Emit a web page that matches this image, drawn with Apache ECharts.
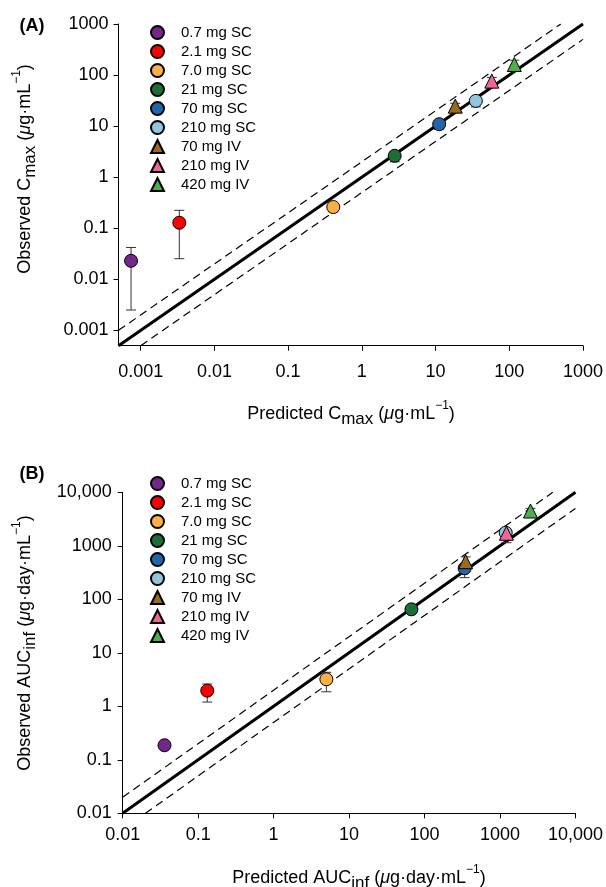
<!DOCTYPE html>
<html><head><meta charset="utf-8">
<script src="https://cdn.jsdelivr.net/npm/echarts@6/dist/echarts.min.js"></script>
<style>html,body{margin:0;padding:0;background:#fff}#c{width:606px;height:887px}</style>
</head><body><div id="c"></div>
<script>
// ---- data ----
const groups = ['0.7 mg SC','2.1 mg SC','7.0 mg SC','21 mg SC','70 mg SC','210 mg SC','70 mg IV','210 mg IV','420 mg IV'];
const groupColors = ['#74268c','#ff0000','#fdae45','#1b6e35','#2166ac','#92c5de','#9c6a1c','#f0649a','#4daf4a'];
const groupSymbols = ['circle','circle','circle','circle','circle','circle','triangle','triangle','triangle'];

// Panel A: Cmax
const predCmax  = [0.00074, 0.00334, 0.41, 2.79, 11.2, 35.2, 18.5, 58, 117];
const obsCmax   = [0.023, 0.128, 0.26, 2.62, 10.9, 31.2, 24.6, 76, 161];
const obsCmaxLo = [0.0025, 0.0253, 0.21, 2.0, 8.6, 23.8, 21, 63, 121];
const obsCmaxHi = [0.042, 0.224, 0.30, 2.9, 12.5, 35, 28, 90, 195];

// Panel B: AUCinf
const predAuc  = [0.0358, 0.132, 5.0, 67, 340, 1190, 350, 1217, 2535];
const obsAuc   = [0.187, 1.96, 3.2, 65, 380, 1760, 505, 1713, 4470];
const obsAucLo = [0.17, 1.2, 1.87, 55, 254, 1500, 420, 1143, 3600];
const obsAucHi = [0.20, 2.61, 4.32, 75, 450, 2100, 620, 2000, 5000];

// reference lines (identity and 2-fold)
const identityA = [[0.0005,0.0005],[1000,1000]];
const upperA    = [[0.0005,0.001],[500,1000]];
const lowerA    = [[0.001,0.0005],[1000,500]];
const identityB = [[0.01,0.01],[10000,10000]];
const upperB    = [[0.01,0.02],[5000,10000]];
const lowerB    = [[0.02,0.01],[10000,5000]];

// axes
const axisMinA = 0.0005, axisMaxA = 1000;
const ticksA = [0.001, 0.01, 0.1, 1, 10, 100, 1000];
const tickLabelsA = ['0.001','0.01','0.1','1','10','100','1000'];
const axisMinB = 0.01, axisMaxB = 10000;
const ticksB = [0.01, 0.1, 1, 10, 100, 1000, 10000];
const tickLabelsB = ['0.01','0.1','1','10','100','1000','10,000'];

// ---- chart ----
const FONT = 'Liberation Sans, Arial, sans-serif';
function fmt(ticks, labels) {
  return function (v) {
    for (let i = 0; i < ticks.length; i++) {
      if (Math.abs(Math.log10(v) - Math.log10(ticks[i])) < 1e-6) return labels[i];
    }
    return '';
  };
}
function logAxis(gi, min, max, ticks, labels, margin) {
  return {
    type: 'log', logBase: 10, gridIndex: gi, min: min, max: max,
    axisLine: { show: true, onZero: false, lineStyle: { color: '#000', width: 1 } },
    axisTick: { show: true, length: 5, inside: false, customValues: ticks, lineStyle: { color: '#000', width: 1 } },
    axisLabel: { show: true, customValues: ticks, formatter: fmt(ticks, labels), color: '#000',
                 fontSize: 18, fontFamily: FONT, margin: margin },
    minorTick: { show: false }, splitLine: { show: false }
  };
}
function refLine(data, xi, solid) {
  return {
    type: 'line', xAxisIndex: xi, yAxisIndex: xi, data: data, symbol: 'none', silent: true, z: 1,
    lineStyle: solid ? { color: '#000', width: 3 } : { color: '#000', width: 1.2, type: [8, 5] }
  };
}
function errSeries(xi, px, lo, hi) {
  const d = px.map((x, i) => [x, lo[i], hi[i]]);
  return {
    type: 'custom', xAxisIndex: xi, yAxisIndex: xi, silent: true, z: 2, data: d,
    encode: { x: 0, y: [1, 2] },
    renderItem: function (params, api) {
      const x = api.value(0);
      const a = api.coord([x, api.value(2)]);
      const b = api.coord([x, api.value(1)]);
      const w = 5;
      const st = { stroke: '#333', lineWidth: 1 };
      return { type: 'group', children: [
        { type: 'line', shape: { x1: a[0], y1: a[1], x2: b[0], y2: b[1] }, style: st },
        { type: 'line', shape: { x1: a[0] - w, y1: a[1], x2: a[0] + w, y2: a[1] }, style: st },
        { type: 'line', shape: { x1: b[0] - w, y1: b[1], x2: b[0] + w, y2: b[1] }, style: st }
      ]};
    }
  };
}
function pointSeries(xi, px, py) {
  return groups.map((g, i) => ({
    type: 'scatter', name: g, xAxisIndex: xi, yAxisIndex: xi, z: 3,
    data: [[px[i], py[i]]],
    symbol: groupSymbols[i], symbolSize: groupSymbols[i] === 'circle' ? 13 : 14,
    itemStyle: { color: groupColors[i], borderColor: '#000', borderWidth: 1, opacity: 1 }
  }));
}
function legend(top) {
  return {
    orient: 'vertical', left: 150, top: top, padding: 0, itemGap: 4,
    itemWidth: 13, itemHeight: 13, symbolKeepAspect: true, selectedMode: false,
    data: groups, textStyle: { fontSize: 15, fontFamily: FONT, color: '#000', padding: [0, 0, 0, 12] }
  };
}
const richBase = {
  n: { fontSize: 18, fontFamily: FONT, lineHeight: 28, verticalAlign: 'middle', fill: '#000' },
  sub: { fontSize: 17, fontFamily: FONT, lineHeight: 28, verticalAlign: 'bottom', fill: '#000' },
  it: { fontSize: 18, fontFamily: FONT, fontStyle: 'italic', lineHeight: 28, verticalAlign: 'middle', fill: '#000' },
  sup: { fontSize: 12, fontFamily: FONT, lineHeight: 28, verticalAlign: 'top', fill: '#000' }
};
function title(x, y, text, rot) {
  return { type: 'text', x: x, y: y, rotation: rot ? Math.PI / 2 : 0, silent: true,
    style: { text: text, rich: richBase, align: 'center', verticalAlign: 'middle', fill: '#000', fontSize: 18, fontFamily: FONT } };
}

const chart = echarts.init(document.getElementById('c'), null, { renderer: 'canvas' });
chart.setOption({
  animation: false,
  backgroundColor: '#fff',
  grid: [
    { left: 118.5, top: 24, width: 465.5, height: 321.7, containLabel: false },
    { left: 122.7, top: 492.3, width: 458, height: 321, containLabel: false }
  ],
  xAxis: [logAxis(0, axisMinA, axisMaxA, ticksA, tickLabelsA, 17),
          logAxis(1, axisMinB, axisMaxB, ticksB, tickLabelsB, 13)],
  yAxis: [logAxis(0, axisMinA, axisMaxA, ticksA, tickLabelsA, 10),
          logAxis(1, axisMinB, axisMaxB, ticksB, tickLabelsB, 11)],
  legend: [legend(25), legend(476)],
  series: [
    refLine(identityA, 0, true), refLine(upperA, 0, false), refLine(lowerA, 0, false),
    refLine(identityB, 1, true), refLine(upperB, 1, false), refLine(lowerB, 1, false),
    errSeries(0, predCmax, obsCmaxLo, obsCmaxHi),
    errSeries(1, predAuc, obsAucLo, obsAucHi)
  ].concat(pointSeries(0, predCmax, obsCmax)).concat(pointSeries(1, predAuc, obsAuc)),
  graphic: [
    { type: 'text', x: 32, y: 26, silent: true, style: { text: '(A)', fontSize: 18, fontWeight: 'bold', fontFamily: FONT, fill: '#000', align: 'center', verticalAlign: 'middle' } },
    { type: 'text', x: 32, y: 474, silent: true, style: { text: '(B)', fontSize: 18, fontWeight: 'bold', fontFamily: FONT, fill: '#000', align: 'center', verticalAlign: 'middle' } },
    title(351, 414, '{n|Predicted C}{sub|max}{n| (}{it|μ}{n|g·mL}{sup|−1}{n|)}', false),
    title(25, 169, '{n|Observed C}{sub|max}{n| (}{it|μ}{n|g·mL}{sup|−1}{n|)}', true),
    title(359, 878, '{n|Predicted AUC}{sub|inf}{n| (}{it|μ}{n|g·day·mL}{sup|−1}{n|)}', false),
    title(25, 643, '{n|Observed AUC}{sub|inf}{n| (}{it|μ}{n|g·day·mL}{sup|−1}{n|)}', true)
  ]
});
</script></body></html>
